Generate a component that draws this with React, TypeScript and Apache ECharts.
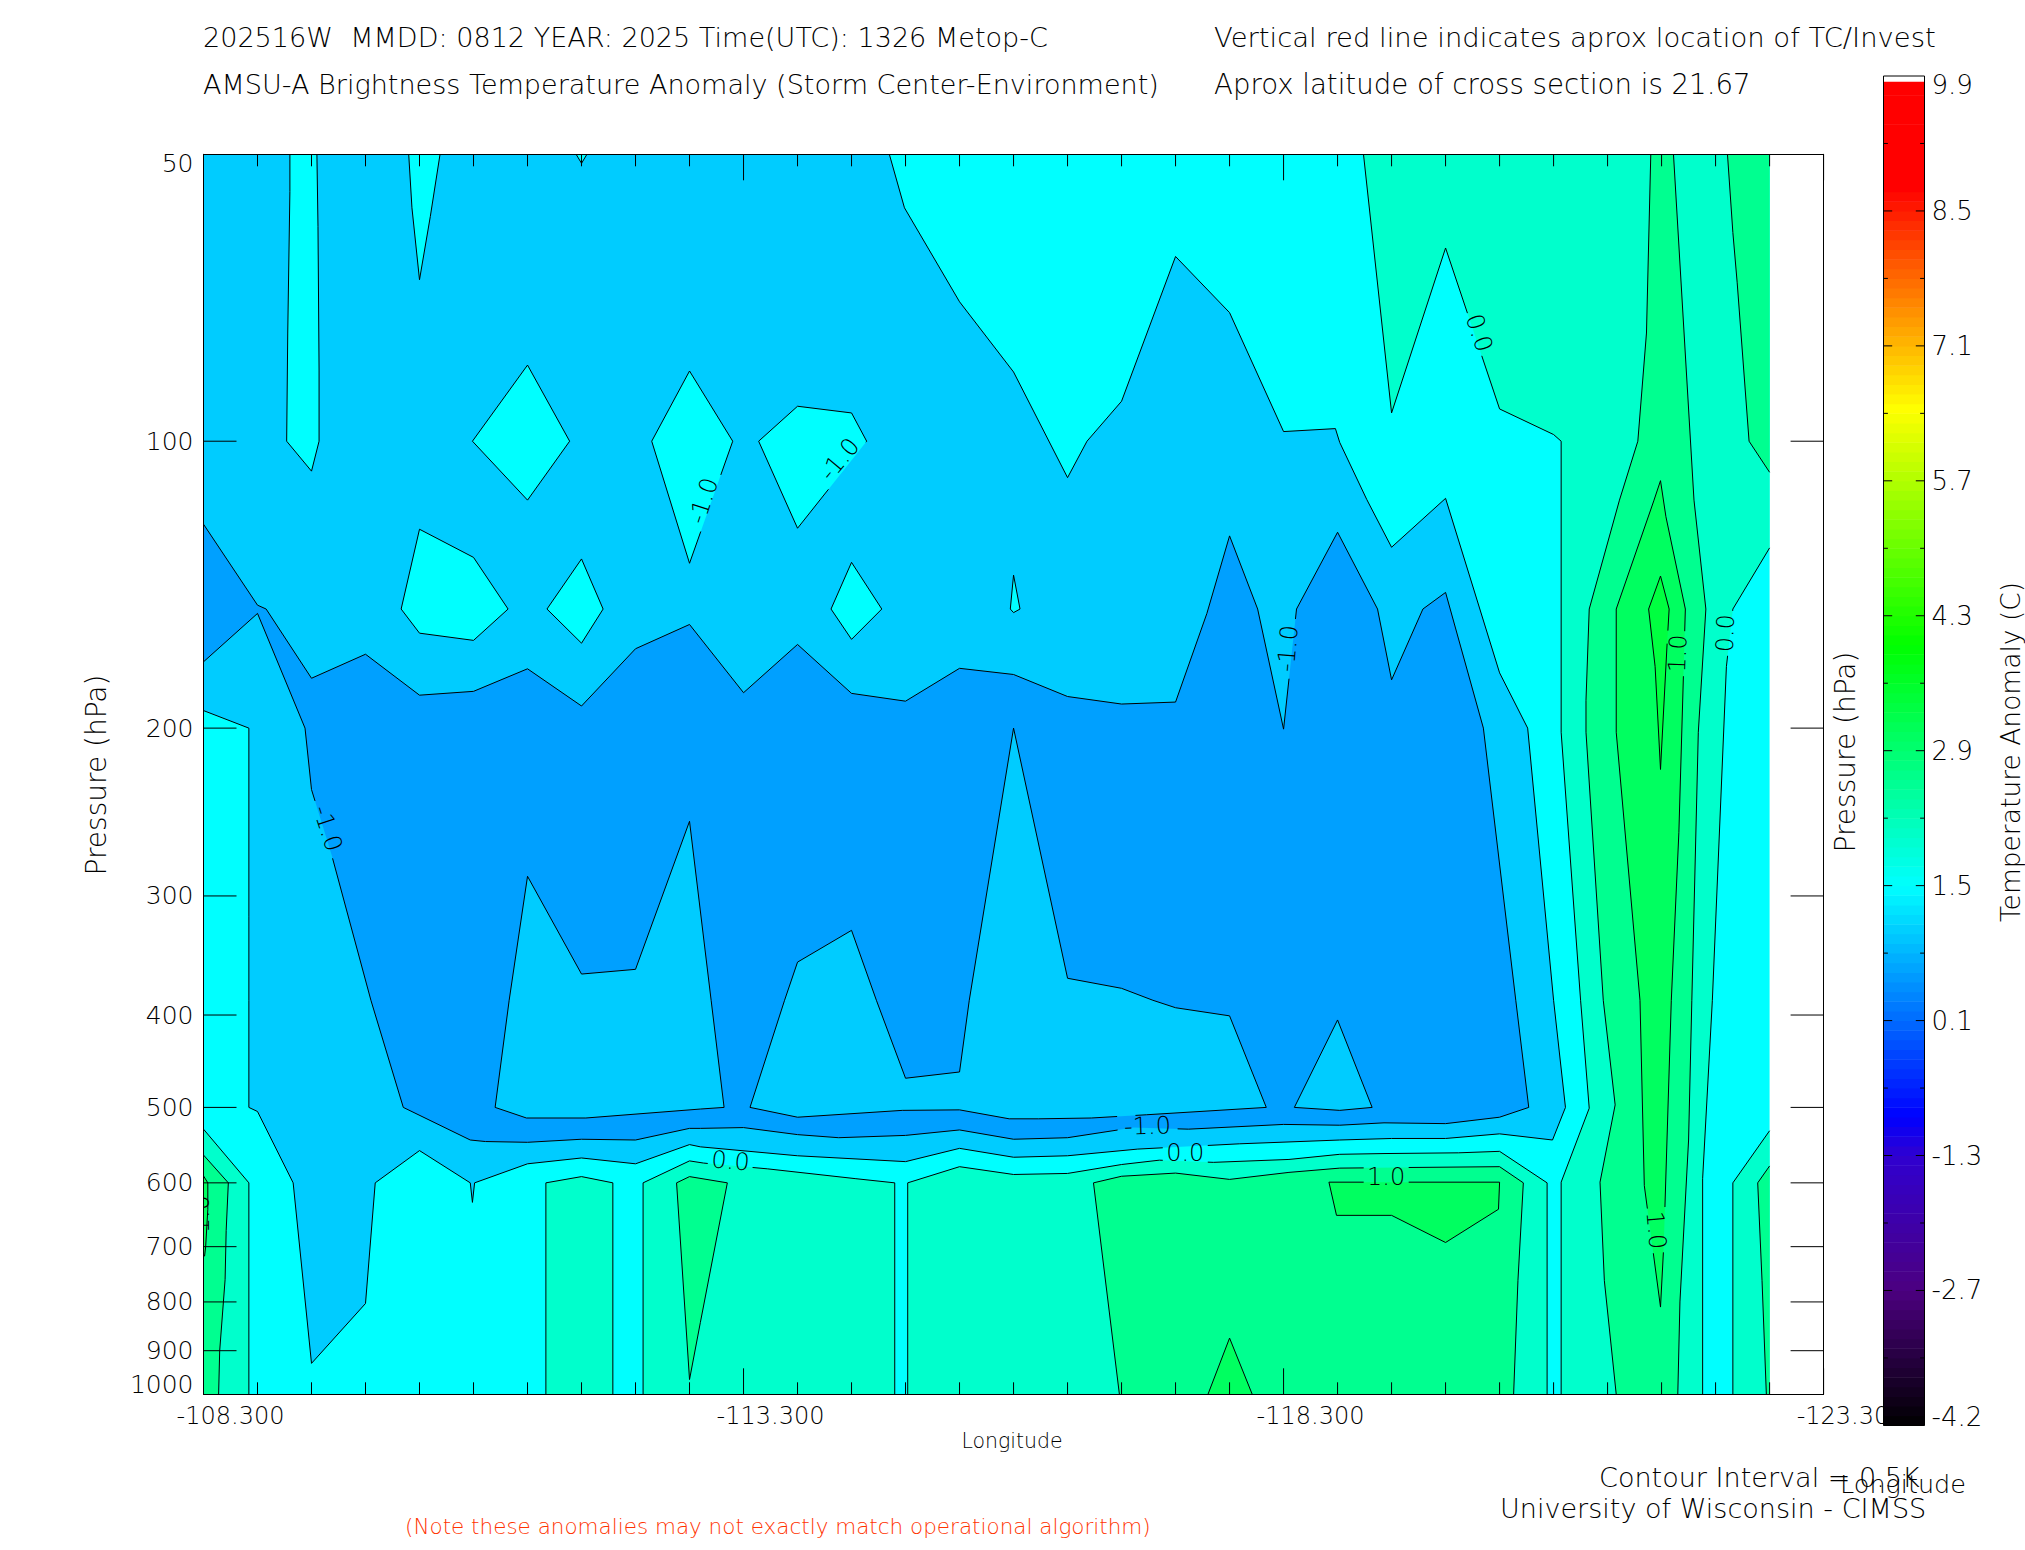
import React, { useEffect, useRef } from "react";
import * as echarts from "echarts";

type Pt = [number, number];

const FONT = '"DejaVu Sans", sans-serif';

// Longitude / pressure ticks
const lonMajor = [-108.3, -113.3, -118.3, -123.3];
const lonMinor = [-108.8, -109.3, -109.8, -110.3, -110.8, -111.3, -111.8, -112.3, -112.8, -113.8, -114.3, -114.8, -115.3, -115.8, -116.3, -116.8, -117.3, -117.8, -118.8, -119.3, -119.8, -120.3, -120.8, -121.3, -121.8, -122.3, -122.8];
const pressureTicks = [100, 200, 300, 400, 500, 600, 700, 800, 900];
const pressureLabels = [50, 100, 200, 300, 400, 500, 600, 700, 800, 900, 1000];

const bandColor: Record<string, string> = {
  A: "#00a0ff", B: "#00ccff", C: "#00ffff", D: "#00ffcc", E: "#00ff90", F: "#00ff60", G: "#00ff40",
};

// Contour regions: [longitude, pressure hPa]
const domain: Pt[] = [[-108.3, 50], [-122.8, 50], [-122.8, 1000], [-108.3, 1000]];

const bMain: Pt[] = [[-108.3, 50], [-114.65, 50], [-114.79, 56.9], [-115.3, 71.4], [-115.8, 84.6], [-116.3, 109.2], [-116.48, 100], [-116.8, 90.8], [-117.3, 64], [-117.8, 73.3], [-118.3, 97.7], [-118.78, 97], [-118.82, 100.3], [-119.07, 115.1], [-119.3, 129.2], [-119.8, 114.8], [-120.3, 175], [-120.56, 200], [-120.8, 386], [-120.91, 500], [-120.79, 541], [-120.3, 533], [-119.8, 539], [-119.3, 539], [-118.82, 541], [-117.89, 546], [-116.95, 553], [-116.3, 562], [-115.8, 564], [-115.3, 552], [-114.8, 570], [-113.8, 562], [-112.9, 550], [-112.8, 547], [-112.3, 573], [-111.8, 565], [-111.3, 573], [-110.81, 600], [-110.79, 629], [-110.77, 600], [-110.3, 555], [-109.89, 600], [-109.8, 803], [-109.3, 928], [-109.13, 600], [-108.8, 505], [-108.72, 500], [-108.72, 386], [-108.72, 315], [-108.72, 200], [-108.3, 191.7]];

const cStrip: Pt[] = [[-109.1, 50], [-109.1, 54.7], [-109.08, 77], [-109.07, 100], [-109.3, 107.5], [-109.37, 100], [-109.37, 84.2], [-109.36, 59.5], [-109.35, 50]];
const cSpike: Pt[] = [[-110.2, 50], [-110.23, 56.9], [-110.3, 67.7], [-110.4, 58.1], [-110.49, 50]];
const cTiny: Pt[] = [[-111.75, 50], [-111.8, 51.1], [-111.85, 50]];
const cDiamond1: Pt[] = [[-111.3, 83.2], [-111.69, 100], [-111.3, 115.3], [-110.79, 100]];
const cDiamond2: Pt[] = [[-112.8, 84.4], [-113.2, 100], [-112.8, 134.3], [-112.45, 100]];
const cPent1: Pt[] = [[-113.8, 91.9], [-114.3, 93.4], [-114.44, 100], [-113.8, 123.4], [-113.44, 100]];
const cPent2: Pt[] = [[-110.3, 123.7], [-110.8, 132.4], [-111.12, 150], [-110.8, 161.8], [-110.3, 159], [-110.13, 150]];
const cDiamond3: Pt[] = [[-111.8, 132.9], [-112.0, 150], [-111.8, 162.9], [-111.48, 150]];
const cDiamond4: Pt[] = [[-114.3, 134], [-114.58, 150], [-114.3, 161.4], [-114.11, 150]];
const cSliver: Pt[] = [[-115.8, 138.2], [-115.86, 150], [-115.8, 151.3], [-115.77, 150]];

const aMain: Pt[] = [[-108.3, 122.2], [-108.8, 148.6], [-108.88, 150], [-109.3, 177.3], [-109.8, 167.3], [-110.3, 184.7], [-110.8, 183], [-111.3, 173.3], [-111.8, 189.6], [-112.3, 165.1], [-112.8, 155.7], [-113.3, 183.6], [-113.8, 163.4], [-114.3, 183.9], [-114.8, 187.4], [-115.3, 173.1], [-115.8, 175.7], [-116.3, 185.3], [-116.8, 188.7], [-117.3, 187.8], [-117.59, 151.6], [-117.8, 125.7], [-118.06, 150], [-118.3, 200.5], [-118.42, 150], [-118.8, 124.6], [-119.17, 150], [-119.3, 178], [-119.59, 150], [-119.8, 144.1], [-120.15, 200], [-120.45, 386], [-120.57, 500], [-120.3, 512], [-119.8, 520], [-119.23, 519], [-118.82, 522], [-118.3, 521], [-117.42, 527], [-116.91, 525], [-116.3, 538], [-115.8, 540], [-115.3, 528], [-114.8, 535], [-114.18, 538], [-113.8, 534], [-113.3, 525], [-112.9, 526], [-112.8, 526], [-112.3, 541], [-111.8, 540], [-111.3, 544], [-110.91, 543], [-110.77, 541], [-110.15, 500], [-109.85, 386], [-109.49, 272.6], [-109.3, 232], [-109.24, 200], [-108.8, 151.6], [-108.3, 170.4]];

const bHole1: Pt[] = [[-111.3, 286.1], [-111.8, 362.3], [-112.3, 358.2], [-112.8, 250.5], [-113.0, 386], [-113.12, 500], [-112.9, 502], [-111.84, 513], [-111.29, 513], [-111.0, 500], [-111.13, 386]];
const bHole2: Pt[] = [[-113.36, 500], [-113.8, 512], [-114.77, 503.6], [-115.3, 503], [-115.76, 514], [-116.03, 514], [-116.52, 513], [-117.03, 509], [-118.14, 500], [-117.8, 400.8], [-117.3, 393], [-117.09, 386], [-116.8, 375], [-116.3, 366], [-115.8, 200], [-115.39, 386], [-115.3, 459], [-114.8, 466], [-114.53, 386], [-114.3, 326], [-113.8, 352], [-113.68, 386]];
const bHole3: Pt[] = [[-118.8, 404.8], [-119.12, 500], [-118.82, 503.6], [-118.4, 500]];

const dUpper: Pt[] = [[-119.04, 50], [-119.3, 93.4], [-119.8, 62.7], [-120.3, 92.5], [-120.8, 98.4], [-120.87, 100], [-120.87, 202], [-121.05, 386], [-121.13, 501], [-120.87, 599], [-120.87, 1000], [-122.18, 1000], [-122.18, 594], [-122.27, 386], [-122.4, 172.4], [-122.46, 150], [-122.8, 129.4], [-122.8, 50]];
const dCorner: Pt[] = [[-122.46, 1000], [-122.46, 600], [-122.8, 529], [-122.8, 1000]];
const dBlock2: Pt[] = [[-114.82, 1000], [-114.82, 600], [-115.3, 577], [-115.8, 588], [-116.3, 586.5], [-116.8, 574], [-117.15, 568], [-117.65, 571], [-118.35, 567], [-118.82, 560], [-119.23, 559], [-119.92, 558], [-120.3, 556], [-120.74, 600], [-120.74, 1000]];
const dBlock1: Pt[] = [[-112.37, 1000], [-112.37, 600], [-112.8, 569], [-112.93, 572], [-113.52, 580], [-114.34, 594], [-114.7, 600], [-114.7, 1000]];
const dBlock0: Pt[] = [[-111.47, 1000], [-111.47, 600], [-111.8, 591], [-112.09, 600], [-112.09, 1000]];
const dLeft: Pt[] = [[-108.3, 527], [-108.72, 600], [-108.72, 1000], [-108.3, 1000]];

const eLeft: Pt[] = [[-108.3, 561], [-108.53, 600], [-108.51, 673], [-108.5, 758], [-108.45, 900], [-108.44, 1000], [-108.3, 1000]];
const eTriangle: Pt[] = [[-112.68, 600], [-112.8, 591], [-113.15, 600], [-112.9, 841], [-112.8, 965]];
const eBlock: Pt[] = [[-116.54, 600], [-116.8, 590.5], [-117.3, 586], [-117.8, 595], [-118.35, 585], [-118.82, 579], [-120.3, 577], [-120.52, 600], [-120.47, 760], [-120.43, 1000], [-116.78, 1000]];
const eColumn: Pt[] = [[-121.7, 50], [-121.66, 77], [-121.58, 100], [-121.41, 115.3], [-121.13, 150], [-121.1, 187], [-121.1, 202], [-121.26, 386], [-121.37, 497], [-121.23, 599], [-121.27, 760], [-121.38, 1000], [-121.95, 1000], [-121.97, 800], [-122.05, 541], [-122.08, 386], [-122.14, 202], [-122.21, 150], [-122.1, 115.3], [-121.91, 50]];
const eTopRight: Pt[] = [[-122.41, 50], [-122.46, 60.4], [-122.5, 68.2], [-122.61, 100], [-122.8, 107.8], [-122.8, 50]];
const eBottomRight: Pt[] = [[-122.8, 576], [-122.69, 600], [-122.73, 760], [-122.77, 1000], [-122.8, 1000]];

const fSmall: Pt[] = [[-117.8, 873], [-118.01, 1000], [-117.6, 1000]];
const fPatch: Pt[] = [[-118.72, 599], [-120.3, 599], [-120.29, 639.5], [-119.8, 693], [-119.3, 649], [-118.79, 649]];
const fColumn: Pt[] = [[-121.79, 110], [-121.73, 115.3], [-121.38, 150], [-121.38, 202], [-121.6, 386], [-121.64, 604], [-121.79, 810], [-121.82, 698], [-121.89, 386], [-121.96, 257.5], [-122.02, 150], [-121.84, 120]];
const fEdge: Pt[] = [[-108.3, 590], [-108.34, 600], [-108.34, 640], [-108.32, 700], [-108.31, 716], [-108.3, 716]];
const gCore: Pt[] = [[-121.79, 138.5], [-121.87, 150], [-121.85, 164], [-121.79, 221], [-121.74, 172.4], [-121.68, 150]];

const regions: { band: string; pts: Pt[] }[] = [
  { band: "C", pts: domain },
  { band: "B", pts: bMain },
  ...[cStrip, cSpike, cTiny, cDiamond1, cDiamond2, cPent1, cPent2, cDiamond3, cDiamond4, cSliver].map((pts) => ({ band: "C", pts })),
  { band: "A", pts: aMain },
  ...[bHole1, bHole2, bHole3].map((pts) => ({ band: "B", pts })),
  ...[dUpper, dCorner, dBlock2, dBlock1, dBlock0, dLeft].map((pts) => ({ band: "D", pts })),
  ...[eLeft, eTriangle, eBlock, eColumn, eTopRight, eBottomRight].map((pts) => ({ band: "E", pts })),
  ...[fSmall, fPatch, fColumn, fEdge].map((pts) => ({ band: "F", pts })),
  { band: "G", pts: gCore },
];

// Contour labels: text, lon, pressure, angle in degrees
const contourLabels: [string, number, number, number][] = [
  ["-1.0", -109.45, 254.8, -72],
  ["-1.0", -112.93, 115.5, 72],
  ["-1.0", -114.19, 104.5, 50],
  ["-1.0", -118.34, 165, 85],
  ["0.0", -120.11, 77, -72],
  ["1.0", -121.95, 167, 88],
  ["0.0", -122.39, 159, 88],
  ["-1.0", -117.04, 523, 2],
  ["0.0", -117.39, 558, 0],
  ["0.0", -113.18, 569, -5],
  ["1.0", -119.25, 591, 0],
  ["1.0", -121.75, 673, -85],
];
const edgeLabel: [string, number, number, number] = ["1.0", -108.28, 647, 90];

// Colour bar
const barTop = 9.9;
const barFill = 9.84;
const barBottom = -4.1;
const barStops: [number, number[]][] = [
  [-4.1, [0, 0, 0]], [-2.7, [76, 0, 128]], [-1.3, [48, 0, 208]], [-0.9, [0, 0, 255]], [1.5, [0, 255, 255]],
  [4.0, [0, 255, 0]], [6.45, [255, 255, 0]], [7.6, [255, 128, 0]], [8.75, [255, 0, 0]], [9.9, [255, 0, 0]],
];
const barMajor = [8.5, 7.1, 5.7, 4.3, 2.9, 1.5, 0.1, -1.3, -2.7];
const barMinor = [9.2, 7.8, 6.4, 5.0, 3.6, 2.2, 0.8, -0.6, -2.0, -3.4];
const barLabels: [number, string][] = [[9.9, "9.9"], [8.5, "8.5"], [7.1, "7.1"], [5.7, "5.7"], [4.3, "4.3"], [2.9, "2.9"], [1.5, "1.5"], [0.1, "0.1"], [-1.3, "-1.3"], [-2.7, "-2.7"], [-4.1, "-4.2"]];

function rampColor(v: number) {
  for (let i = 1; i < barStops.length; i++) {
    if (v <= barStops[i][0]) {
      const [a, ca] = barStops[i - 1];
      const [b, cb] = barStops[i];
      const t = (v - a) / (b - a);
      return `rgb(${ca.map((c, k) => Math.round(c + (cb[k] - c) * t)).join(",")})`;
    }
  }
  return "#ff0000";
}
const barCells: [number, number, string][] = [];
for (let i = 0; i < 140; i++) {
  const lo = barBottom + i * 0.1;
  barCells.push([lo, Math.min(lo + 0.1, barFill), rampColor(lo + 0.05)]);
}

const txt = (text: string, x: number, y: number, opts: any = {}) => ({
  type: "text",
  x,
  y,
  rotation: opts.rotation || 0,
  z: 50,
  style: {
    text,
    fill: opts.fill || "#000",
    fontFamily: FONT,
    fontWeight: 200,
    fontSize: opts.size || 27.05,
    align: opts.align || "left",
    verticalAlign: "middle",
  },
});

export default function App() {
  const ref = useRef<HTMLDivElement>(null);
  useEffect(() => {
    const chart = echarts.init(ref.current!, undefined, { renderer: "svg" });
    const L = -108.3;
    const R = -123.3;
    const lineStyle = { stroke: "#000", lineWidth: 1, fill: "none" };
    const seg = (a: number[], b: number[]) => ({ type: "line", shape: { x1: a[0], y1: a[1], x2: b[0], y2: b[1] }, style: lineStyle });

    const isEdge = (a: Pt, b: Pt) =>
      (a[0] === b[0] && (a[0] === -108.3 || a[0] === -122.8)) || (a[1] === b[1] && (a[1] === 50 || a[1] === 1000));

    // Contours are broken under their labels, as the reference does
    const cutInterval = (a: number[], b: number[], box: any): [number, number] | null => {
      const dax = a[0] - box.c[0], day = a[1] - box.c[1];
      const dx = b[0] - a[0], dy = b[1] - a[1];
      const u0 = dax * box.cos - day * box.sin, v0 = dax * box.sin + day * box.cos;
      const du = dx * box.cos - dy * box.sin, dv = dx * box.sin + dy * box.cos;
      let t0 = 0, t1 = 1;
      for (const [p, d, h] of [[u0, du, box.hw], [v0, dv, box.hh]] as number[][]) {
        if (Math.abs(d) < 1e-9) {
          if (Math.abs(p) > h) return null;
        } else {
          let ta = (-h - p) / d, tb = (h - p) / d;
          if (ta > tb) [ta, tb] = [tb, ta];
          t0 = Math.max(t0, ta);
          t1 = Math.min(t1, tb);
        }
      }
      return t0 < t1 ? [t0, t1] : null;
    };

    const renderRegion = (_: any, api: any) => {
      const r = regions[api.value(2)];
      const children: any[] = [
        { type: "polygon", shape: { points: r.pts.map((p) => api.coord(p)) }, style: { fill: bandColor[r.band], stroke: "none" } },
      ];
      const boxes = contourLabels.map((l) => {
        const th = (l[3] * Math.PI) / 180;
        return { c: api.coord([l[1], l[2]]), cos: Math.cos(th), sin: Math.sin(th), hw: l[0].length * 7.5, hh: 11 };
      });
      const n = r.pts.length;
      for (let i = 0; i < n; i++) {
        const pa = r.pts[i];
        const pb = r.pts[(i + 1) % n];
        if (isEdge(pa, pb)) continue;
        const a = api.coord(pa);
        const b = api.coord(pb);
        let spans: [number, number][] = [[0, 1]];
        for (const box of boxes) {
          const cut = cutInterval(a, b, box);
          if (!cut) continue;
          const next: [number, number][] = [];
          for (const [s, e] of spans) {
            if (cut[1] <= s || cut[0] >= e) next.push([s, e]);
            else {
              if (cut[0] > s) next.push([s, cut[0]]);
              if (cut[1] < e) next.push([cut[1], e]);
            }
          }
          spans = next;
        }
        for (const [s, e] of spans) {
          children.push(seg([a[0] + (b[0] - a[0]) * s, a[1] + (b[1] - a[1]) * s], [a[0] + (b[0] - a[0]) * e, a[1] + (b[1] - a[1]) * e]));
        }
      }
      return { type: "group", children };
    };

    const labelItem = (l: [string, number, number, number], api: any) => {
      const c = api.coord([l[1], l[2]]);
      return {
        type: "text",
        x: c[0],
        y: c[1],
        rotation: (l[3] * Math.PI) / 180,
        style: { text: l[0], fill: "#000", fontFamily: FONT, fontWeight: 200, fontSize: 24, align: "center", verticalAlign: "middle" },
      };
    };
    const renderLabel = (_: any, api: any) => labelItem(contourLabels[api.value(2)], api);
    const renderEdgeLabel = (_: any, api: any) => labelItem(edgeLabel, api);

    const renderXTick = (_: any, api: any) => {
      const lon = api.value(0);
      const len = api.value(1);
      const b = api.coord([lon, 1000]);
      const t = api.coord([lon, 50]);
      return { type: "group", children: [seg(b, [b[0], b[1] - len]), seg(t, [t[0], t[1] + len])] };
    };
    const renderYTick = (_: any, api: any) => {
      const p = api.value(1);
      const a = api.coord([L, p]);
      const b = api.coord([R, p]);
      return { type: "group", children: [seg(a, [a[0] + 33, a[1]]), seg(b, [b[0] - 33, b[1]])] };
    };
    const renderYLabel = (_: any, api: any) => {
      const p = api.value(1);
      const a = api.coord([L, p]);
      const dy = p === 50 ? -3 : p === 1000 ? 3 : 0;
      return {
        type: "text",
        x: a[0] - 10,
        y: a[1] + dy,
        style: { text: String(p), fill: "#000", fontFamily: FONT, fontWeight: 200, fontSize: 25, align: "right", verticalAlign: p === 50 ? "top" : p === 1000 ? "bottom" : "middle" },
      };
    };
    const renderXLabel = (_: any, api: any) => {
      const lon = api.value(0);
      const a = api.coord([lon, 1000]);
      return {
        type: "text",
        x: a[0] + 27,
        y: a[1] + 22,
        style: { text: lon.toFixed(3), fill: "#000", fontFamily: FONT, fontWeight: 200, fontSize: 24, align: "center", verticalAlign: "middle" },
      };
    };
    const renderBarCell = (_: any, api: any) => {
      const c = barCells[api.value(2)];
      const a = api.coord([0, c[1]]);
      const b = api.coord([1, c[0]]);
      return { type: "rect", shape: { x: a[0], y: a[1], width: b[0] - a[0], height: b[1] - a[1] + 0.5 }, style: { fill: c[2], stroke: "none" } };
    };
    const renderBarFrame = (_: any, api: any) => {
      const a = api.coord([0, barTop]);
      const b = api.coord([1, barBottom]);
      return { type: "rect", shape: { x: a[0], y: a[1], width: b[0] - a[0], height: b[1] - a[1] }, style: lineStyle };
    };
    const renderBarTick = (_: any, api: any) => {
      const v = api.value(1);
      const len = api.value(0);
      const a = api.coord([0, v]);
      const b = api.coord([1, v]);
      return { type: "group", children: [seg(a, [a[0] + len, a[1]]), seg(b, [b[0] - len, b[1]])] };
    };
    const renderBarLabel = (_: any, api: any) => {
      const l = barLabels[api.value(2)];
      const b = api.coord([1, l[0]]);
      const dy = l[1] === "9.9" ? 9 : l[1] === "-4.2" ? -8 : 0;
      return {
        type: "text",
        x: b[0] + 7,
        y: b[1] + dy,
        style: { text: l[1], fill: "#000", fontFamily: FONT, fontWeight: 200, fontSize: 26, align: "left", verticalAlign: "middle" },
      };
    };

    const mainAxes = { xAxisIndex: 0, yAxisIndex: 0 };
    const barAxes = { xAxisIndex: 2, yAxisIndex: 2 };
    const base = { type: "custom", silent: true, clip: false, animation: false };
    const line = { show: true, lineStyle: { color: "#000", width: 1 }, onZero: false };
    const hiddenX = { min: R, max: L, inverse: true, type: "value", gridIndex: 0, splitLine: { show: false }, axisTick: { show: false }, axisLabel: { show: false }, axisLine: line, z: 20 };
    const hiddenY = { type: "log", logBase: 10, min: 50, max: 1000, inverse: true, gridIndex: 0, splitLine: { show: false }, axisTick: { show: false }, axisLabel: { show: false }, axisLine: line, z: 20 };

    chart.setOption({
      animation: false,
      backgroundColor: "#fff",
      grid: [
        { left: 203.5, top: 154.3, width: 1620.1, height: 1240 },
        { left: 1883.5, top: 76, width: 41, height: 1349.4 },
      ],
      xAxis: [
        { ...hiddenX, position: "bottom" },
        { ...hiddenX, position: "top" },
        { type: "value", gridIndex: 1, min: 0, max: 1, show: false },
      ],
      yAxis: [
        { ...hiddenY, position: "left" },
        { ...hiddenY, position: "right" },
        { type: "value", gridIndex: 1, min: barBottom, max: barTop, show: false },
      ],
      series: [
        { ...base, ...mainAxes, name: "contours", clip: true, renderItem: renderRegion, encode: { x: 0, y: 1 }, data: regions.map((r, i) => [r.pts[0][0], r.pts[0][1], i]) },
        { ...base, ...mainAxes, name: "contour labels", renderItem: renderLabel, encode: { x: 1, y: 1 }, data: contourLabels.map((l, i) => [l[1], l[2], i]) },
        { ...base, ...mainAxes, name: "edge label", clip: true, renderItem: renderEdgeLabel, encode: { x: 0, y: 1 }, data: [[edgeLabel[1], edgeLabel[2]]] },
        { ...base, ...mainAxes, name: "x ticks", renderItem: renderXTick, encode: { x: 0, y: -1 }, data: [...lonMinor.map((v) => [v, 12]), ...lonMajor.map((v) => [v, 26])] },
        { ...base, ...mainAxes, name: "y ticks", renderItem: renderYTick, encode: { x: -1, y: 1 }, data: pressureTicks.map((p) => [L, p]) },
        { ...base, ...mainAxes, name: "y labels", renderItem: renderYLabel, encode: { x: -1, y: 1 }, data: pressureLabels.map((p) => [L, p]) },
        { ...base, ...mainAxes, name: "x labels", renderItem: renderXLabel, encode: { x: 0, y: -1 }, data: lonMajor.map((v) => [v]) },
        { ...base, ...barAxes, name: "bar", renderItem: renderBarCell, encode: { x: -1, y: 0 }, data: barCells.map((c, i) => [c[0], c[1], i]) },
        { ...base, ...barAxes, name: "bar frame", renderItem: renderBarFrame, encode: { x: -1, y: 0 }, data: [[barBottom]] },
        { ...base, ...barAxes, name: "bar ticks", renderItem: renderBarTick, encode: { x: -1, y: 1 }, data: [...barMajor.map((v) => [8.7, v]), ...barMinor.map((v) => [4.4, v])] },
        { ...base, ...barAxes, name: "bar labels", renderItem: renderBarLabel, encode: { x: -1, y: 0 }, data: barLabels.map((l, i) => [l[0], 0, i]) },
      ],
      graphic: [
        txt("202516W  MMDD: 0812 YEAR: 2025 Time(UTC): 1326 Metop-C", 203, 37.6),
        txt("AMSU-A Brightness Temperature Anomaly (Storm Center-Environment)", 203, 84),
        txt("Vertical red line indicates aprox location of TC/Invest", 1214, 37.6, { size: 27.45 }),
        txt("Aprox latitude of cross section is 21.67", 1214, 84, { size: 27.6 }),
        txt("Pressure (hPa)", 96, 775, { rotation: Math.PI / 2, align: "center", size: 28 }),
        txt("Pressure (hPa)", 1845, 752, { rotation: Math.PI / 2, align: "center", size: 28 }),
        txt("Temperature Anomaly (C)", 2010, 752, { rotation: Math.PI / 2, align: "center", size: 26.5 }),
        txt("Longitude", 1012, 1441, { align: "center", size: 20.5 }),
        txt("Longitude", 1903, 1484, { align: "center", size: 25.5 }),
        txt("Contour Interval = 0.5K", 1599, 1477.5),
        txt("University of Wisconsin - CIMSS", 1500, 1508.5),
        txt("(Note these anomalies may not exactly match operational algorithm)", 405, 1526, { size: 21.5, fill: "#ff3300" }),
      ],
    });
    return () => chart.dispose();
  }, []);
  return <div ref={ref} style={{ position: "fixed", left: 0, top: 0, width: 2025, height: 1550 }} />;
}
